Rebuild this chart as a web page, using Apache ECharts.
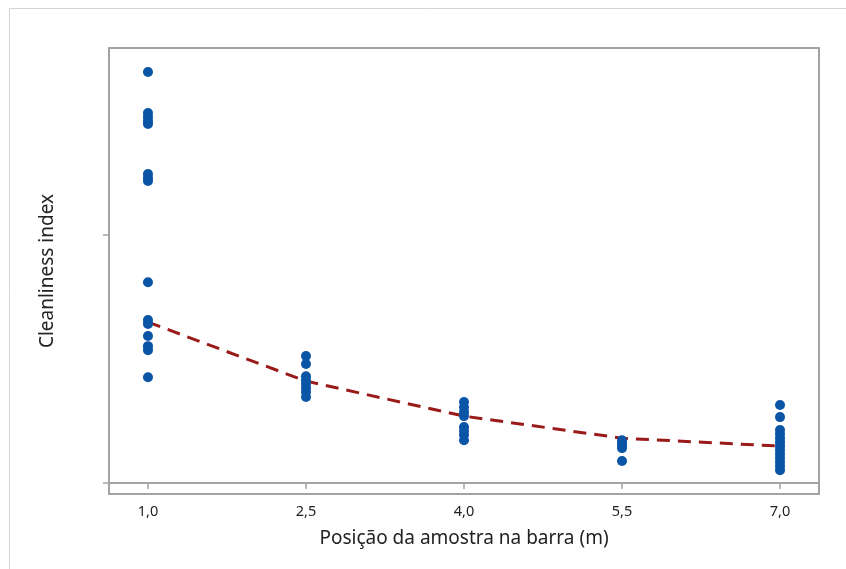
<!DOCTYPE html>
<html>
<head>
<meta charset="utf-8">
<script src="https://cdn.jsdelivr.net/npm/echarts@6/dist/echarts.min.js"></script>
<style>
  html, body { margin: 0; padding: 0; background: #fff; }
  #chart { width: 846px; height: 569px; }
</style>
</head>
<body>
<div id="chart"></div>
<script>
// positions along the bar (m)
var positions = [1.0, 2.5, 4.0, 5.5, 7.0];

// cleanliness index readings per position (axis has no labels, values are relative)
var at1_0 = [165.7, 149.2, 147.6, 146.0, 144.8, 124.6, 123.0, 121.8, 81.0, 65.7, 64.1, 59.3, 55.2, 53.6, 42.7];
var at2_5 = [51.2, 48.0, 43.1, 41.5, 39.9, 38.3, 36.7, 34.7];
var at4_0 = [32.7, 30.6, 28.6, 27.0, 22.6, 21.0, 19.4, 17.3];
var at5_5 = [17.3, 16.5, 15.3, 14.1, 8.9];
var at7_0 = [31.5, 26.6, 21.4, 19.8, 18.1, 16.5, 14.9, 13.3, 11.7, 10.1, 8.5, 6.9, 5.2];

// connect line (means)
var meanLine = [64.9, 41.1, 27.0, 18.1, 14.9];

var xTicks = [1.0, 2.5, 4.0, 5.5, 7.0];
var yTicks = [0, 100];

var groups = [at1_0, at2_5, at4_0, at5_5, at7_0];
var points = [];
groups.forEach(function (g, i) {
    g.forEach(function (v) { points.push([positions[i], v]); });
});
var lineData = positions.map(function (p, i) { return [p, meanLine[i]]; });

var myChart = echarts.init(document.getElementById('chart'));
var axisColor = '#a3a3a3';
var option = {
    backgroundColor: '#fff',
    animation: false,
    graphic: [{
        type: 'rect',
        shape: { x: 9.5, y: 8.5, width: 900, height: 700 },
        style: { fill: 'none', stroke: '#d4d4d4', lineWidth: 1 },
        silent: true
    }],
    grid: {
        left: 109, top: 48, right: 27, bottom: 75,
        show: true,
        borderColor: axisColor,
        borderWidth: 2,
        backgroundColor: '#fff'
    },
    xAxis: {
        type: 'value',
        min: 0.63,
        max: 7.37,
        name: 'Posição da amostra na barra (m)',
        nameLocation: 'middle',
        nameGap: 35,
        nameTextStyle: { fontFamily: 'Noto Sans', fontSize: 19, color: '#222' },
        axisLine: { lineStyle: { color: axisColor, width: 2 } },
        axisTick: { customValues: xTicks, length: 6, lineStyle: { color: axisColor, width: 1.5 } },
        axisLabel: {
            customValues: xTicks,
            margin: 10,
            fontFamily: 'Noto Sans',
            fontSize: 14.5,
            color: '#222',
            formatter: function (v) { return v.toFixed(1).replace('.', ','); }
        },
        splitLine: { show: false }
    },
    yAxis: {
        type: 'value',
        min: -4.4,
        max: 175.4,
        name: 'Cleanliness index',
        nameLocation: 'middle',
        nameGap: 52,
        nameTextStyle: { fontFamily: 'Noto Sans', fontSize: 19, color: '#222' },
        axisLine: { show: true, lineStyle: { color: axisColor, width: 2 } },
        axisTick: { show: true, customValues: yTicks, length: 6, lineStyle: { color: axisColor, width: 1.5 } },
        axisLabel: { show: false },
        splitLine: { show: false }
    },
    series: [
        {
            type: 'line',
            data: lineData,
            symbol: 'none',
            z: 1,
            lineStyle: { color: '#9a1a1a', width: 3, type: [13, 8] }
        },
        {
            type: 'scatter',
            data: points,
            symbol: 'circle',
            symbolSize: 10,
            z: 2,
            itemStyle: { color: '#0b55a6', opacity: 1 }
        }
    ]
};
myChart.setOption(option);
</script>
</body>
</html>
